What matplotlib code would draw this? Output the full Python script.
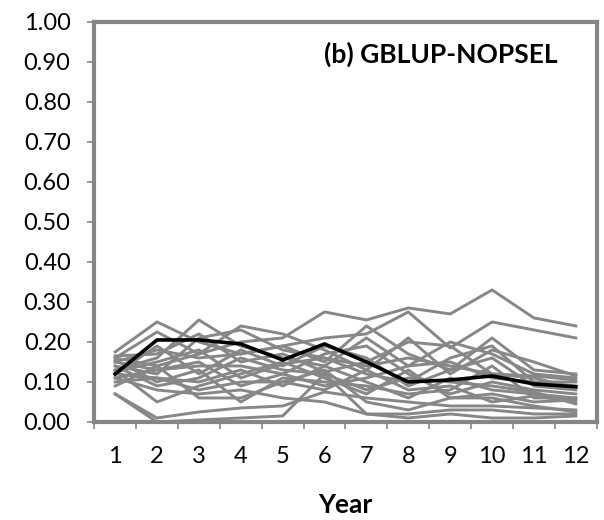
import numpy as np
import matplotlib.pyplot as plt
from matplotlib.ticker import FixedLocator

plt.rcParams['font.family'] = ['Lato', 'DejaVu Sans']

years = list(range(1, 13))

# accuracy per individual run (grey) and the mean (black)
runs = [
    [.16, .14, .17, .20, .21, .275, .255, .285, .27, .33, .26, .24],
    [.15, .18, .16, .17, .19, .21, .22, .275, .185, .25, .23, .21],
    [.175, .25, .20, .17, .19, .15, .24, .17, .13, .21, .13, .12],
    [.16, .225, .17, .24, .22, .18, .13, .21, .12, .18, .15, .115],
    [.13, .16, .255, .19, .16, .14, .21, .14, .20, .17, .12, .11],
    [.14, .12, .21, .23, .18, .16, .12, .10, .16, .19, .10, .10],
    [.165, .17, .22, .15, .17, .125, .15, .20, .19, .12, .11, .085],
    [.12, .19, .12, .18, .14, .19, .16, .09, .13, .16, .09, .08],
    [.11, .13, .15, .09, .12, .17, .19, .12, .07, .10, .08, .07],
    [.10, .11, .10, .13, .09, .14, .10, .06, .11, .08, .07, .06],
    [.155, .10, .13, .05, .11, .10, .09, .07, .08, .14, .06, .06],
    [.13, .05, .09, .12, .15, .11, .07, .13, .06, .07, .05, .055],
    [.09, .14, .06, .06, .10, .08, .13, .08, .09, .05, .065, .05],
    [.14, .09, .11, .16, .13, .12, .08, .11, .10, .09, .075, .045],
    [.07, .01, .025, .035, .04, .075, .06, .05, .04, .04, .035, .03],
    [.07, .00, .005, .01, .015, .12, .02, .01, .02, .01, .01, .015],
    [.12, .11, .08, .10, .10, .13, .05, .03, .06, .06, .04, .025],
    [.15, .13, .14, .14, .12, .09, .11, .14, .15, .11, .10, .09],
    [.11, .08, .07, .08, .06, .05, .02, .02, .03, .03, .02, .02],
    [.125, .15, .18, .11, .145, .16, .14, .16, .14, .12, .115, .105],
]
mean_run = [.12, .205, .205, .195, .155, .195, .15, .10, .105, .115, .095, .088]

fig = plt.figure(figsize=(6.04, 5.20), dpi=100)
ax = fig.add_axes([0.156, 0.1885, 0.832, 0.7695])

for r in runs:
    ax.plot(years, r, color='#878787', lw=2.1)
ax.plot(years, mean_run, color='black', lw=2.6)

ax.set_xlim(0.5, 12.5)
ax.set_ylim(0, 1)
ax.set_yticks(np.arange(0, 1.01, 0.1))
ax.set_yticklabels(['%.2f' % v for v in np.arange(0, 1.01, 0.1)])
ax.set_xticks(years)
ax.xaxis.set_minor_locator(FixedLocator(np.arange(0.5, 13, 1)))
ax.tick_params(axis='x', which='major', length=0, pad=17, labelsize=17)
ax.tick_params(axis='x', which='minor', length=5, width=1.2, color='#868686')
ax.tick_params(axis='y', length=5, width=1.2, color='#868686', pad=12, labelsize=17)

for s in ax.spines.values():
    s.set_color('#868686')
    s.set_linewidth(3)

ax.text(0.922, 0.92, '(b) GBLUP-NOPSEL', transform=ax.transAxes, ha='right',
        va='center', fontsize=19, fontweight='bold')
ax.set_xlabel('Year', fontsize=19, fontweight='bold', labelpad=19)

plt.savefig('out.png', dpi=100)
